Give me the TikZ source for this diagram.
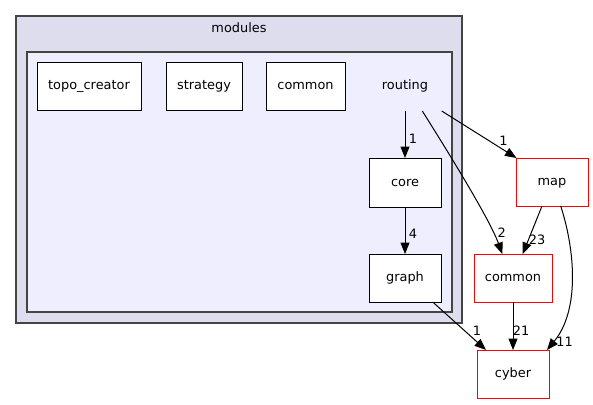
\documentclass[tikz,border=0pt]{standalone}
\usepackage{fontspec}
\setmainfont{DejaVu Sans}
\usetikzlibrary{arrows.meta}
\definecolor{outerfill}{HTML}{DDDDEE}
\definecolor{innerfill}{HTML}{EEEEFF}
\definecolor{clborder}{HTML}{444444}
\tikzset{
  every node/.style={font=\fontsize{12.9}{15}\selectfont, inner sep=0pt},
  boxtext/.style={text height=9.5pt, text depth=2.5pt},
  dirbox/.style={draw=black, fill=white, line width=1pt},
  extbox/.style={draw=red, fill=white, line width=1pt},
  dep/.style={draw=black, line width=1pt, -{Triangle[length=11.5pt,width=9pt]}},
  lbl/.style={font=\fontsize{12.9}{15}\selectfont},
}
\begin{document}
\begin{tikzpicture}[x=1pt,y=-1pt]
\useasboundingbox[fill=white] (0,0) rectangle (593,404);
% clusters
\draw[fill=outerfill, draw=clborder, line width=1.3pt] (16,16) rectangle (462,323);
\node (modlbl) at (239,27.5) {modules};
\draw[fill=innerfill, draw=clborder, line width=1.3pt] (27,52) rectangle (452,312);
\node[boxtext] (routing) at (405,86) {routing};
% boxes
\draw[dirbox] (37,62) rectangle (141,110); \node[boxtext] (topo) at (89,86) {topo\_creator};
\draw[dirbox] (166,62) rectangle (242,110); \node[boxtext] (strategy) at (204,86) {strategy};
\draw[dirbox] (266,62) rectangle (345,110); \node[boxtext] (commonin) at (305.5,86) {common};
\draw[dirbox] (369,158) rectangle (441,207); \node[boxtext] (core) at (405,182.5) {core};
\draw[dirbox] (369,254) rectangle (441,302); \node[boxtext] (graph) at (405,278) {graph};
\draw[extbox] (516,158) rectangle (588,206); \node[boxtext] (map) at (552,182) {map};
\draw[extbox] (474,254) rectangle (552,302); \node[boxtext] (common) at (513,278) {common};
\draw[extbox] (477,350) rectangle (549,398); \node[boxtext] (cyber) at (513,374) {cyber};
% anchor coordinates
\coordinate (rA) at (405,111);
\coordinate (rB) at (422.3,111);
\coordinate (rC) at (441.7,111);
\coordinate (coreT) at (405,158);
\coordinate (coreB) at (405,207);
\coordinate (graphT) at (405,254);
\coordinate (graphB) at (432.7,302);
\coordinate (mapT) at (516.5,158);
\coordinate (mapB1) at (542,206);
\coordinate (mapB2) at (560.7,206);
\coordinate (comT1) at (502.3,254);
\coordinate (comT2) at (522.7,254);
\coordinate (comB) at (513,302);
\coordinate (cybT1) at (486,350);
\coordinate (cybT2) at (513,350);
\coordinate (cybT3) at (547,350);
% edges
\draw[dep] (rA) -- (coreT);
\node[lbl] (l1) at (413,138.5) {1};
\draw[dep] (rC) -- (mapT);
\node[lbl] (l2) at (503.5,141) {1};
\draw[dep] (rB) .. controls (450,155) and (490,220) .. (comT1);
\node[lbl] (l3) at (501.7,233) {2};
\draw[dep] (coreB) -- (graphT);
\node[lbl] (l4) at (413,234) {4};
\draw[dep] (graphB) -- (cybT1);
\node[lbl] (l5) at (477,330.5) {1};
\draw[dep] (mapB1) -- (comT2);
\node[lbl] (l6) at (537,240) {23};
\draw[dep] (mapB2) .. controls (575,250) and (580,310) .. (cybT3);
\node[lbl] (l7) at (564.5,341.5) {11};
\draw[dep] (comB) -- (cybT2);
\node[lbl] (l8) at (521,330.5) {21};
\end{tikzpicture}
\end{document}
